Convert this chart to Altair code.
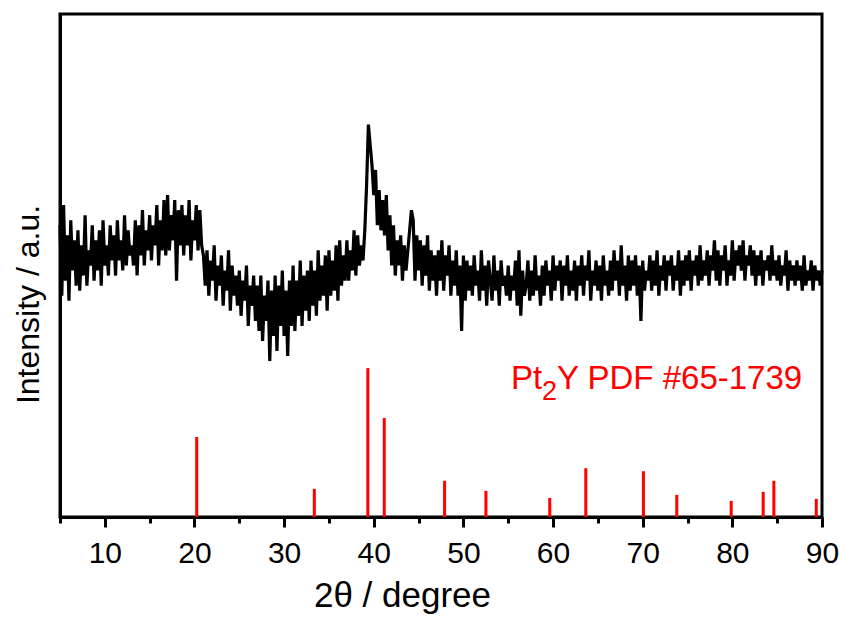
import altair as alt
import pandas as pd

# ---- measured XRD pattern (2theta from 5.0 to 90.0, step 0.2 deg), intensity in a.u. ----
start_2theta = 5.0
step_2theta = 0.2
intensity = [
    58, 44, 62, 47, 56, 43, 59, 49, 55, 46,   # 5.0
    57, 45, 54, 48, 60, 46, 53, 50, 58, 47,   # 7.0
    55, 49, 57, 46, 59, 50, 54, 48, 58, 51,   # 9.0
    56, 48, 59, 51, 55, 49, 60, 50, 57, 52,   # 11.0
    54, 50, 59, 48, 58, 52, 61, 50, 57, 53,   # 13.0
    60, 51, 58, 54, 62, 50, 59, 53, 63, 52,   # 15.0
    64, 53, 60, 55, 63, 47, 61, 54, 62, 52,   # 17.0
    60, 54, 63, 51, 59, 55, 62, 53, 61, 54,   # 19.0
    52, 46, 53, 44, 51, 47, 54, 43, 50, 46,   # 21.0
    52, 42, 49, 45, 53, 41, 50, 44, 48, 42,   # 23.0
    49, 40, 47, 43, 50, 38, 46, 42, 48, 39,   # 25.0
    46, 37, 48, 35, 44, 39, 47, 31, 45, 36,   # 27.0
    48, 33, 46, 38, 49, 36, 45, 32, 47, 38,   # 29.0
    50, 37, 47, 40, 51, 38, 48, 41, 49, 39,   # 31.0
    51, 42, 49, 40, 53, 43, 50, 44, 52, 41,   # 33.0
    53, 44, 51, 45, 54, 43, 55, 46, 52, 47,   # 35.0
    55, 47, 53, 49, 57, 48, 56, 50, 54, 51,   # 37.0
    57, 66, 78, 74, 70, 64, 69, 58, 65, 57,   # 39.0
    63, 56, 64, 53, 60, 50, 58, 48, 55, 50,   # 41.0
    56, 47, 54, 49, 53, 57, 61, 59, 47, 56,   # 43.0
    49, 55, 46, 54, 48, 56, 45, 53, 47, 52,   # 45.0
    44, 53, 47, 55, 45, 52, 48, 54, 44, 51,   # 47.0
    46, 53, 44, 50, 37, 52, 43, 51, 45, 50,   # 49.0
    44, 52, 46, 49, 43, 53, 45, 50, 42, 51,   # 51.0
    47, 43, 52, 45, 49, 42, 51, 46, 48, 44,   # 53.0
    50, 43, 48, 45, 51, 42, 53, 40, 49, 44,   # 55.0
    46, 51, 43, 49, 44, 52, 45, 48, 42, 50,   # 57.0
    44, 51, 46, 49, 43, 52, 45, 50, 47, 51,   # 59.0
    43, 50, 46, 52, 44, 49, 45, 51, 43, 50,   # 61.0
    46, 52, 44, 50, 47, 53, 43, 49, 46, 51,   # 63.0
    45, 50, 43, 52, 46, 49, 44, 51, 45, 53,   # 65.0
    47, 51, 44, 54, 46, 50, 43, 52, 45, 51,   # 67.0
    46, 52, 44, 50, 39, 51, 45, 49, 47, 52,   # 69.0
    45, 51, 46, 53, 44, 50, 47, 52, 45, 51,   # 71.0
    48, 52, 45, 50, 47, 53, 44, 51, 46, 52,   # 73.0
    47, 53, 45, 51, 48, 52, 46, 54, 47, 51,   # 75.0
    48, 53, 46, 52, 49, 55, 47, 53, 46, 52,   # 77.0
    49, 54, 46, 51, 48, 55, 47, 53, 50, 54,   # 79.0
    49, 55, 47, 52, 50, 54, 48, 53, 46, 52,   # 81.0
    48, 53, 46, 51, 49, 52, 47, 54, 48, 51,   # 83.0
    47, 52, 46, 50, 48, 53, 45, 51, 47, 50,   # 85.0
    46, 51, 47, 50, 45, 52, 46, 49, 47, 51,   # 87.0
    45, 50, 47, 49, 46, 49,                   # 89.0
]
two_theta = [round(start_2theta + step_2theta * i, 1) for i in range(len(intensity))]

# ---- Pt2Y reference pattern, PDF #65-1739 ----
ref_2theta = [20.25, 33.37, 39.34, 41.17, 47.90, 52.51, 59.63, 63.65,
              70.08, 73.80, 79.87, 83.44, 84.63, 89.36]
ref_intensity = [15.9, 5.6, 29.6, 19.7, 7.2, 5.2, 3.8, 9.7,
                 9.1, 4.4, 3.2, 5.0, 7.2, 3.6]

# ---- axis settings ----
x_min, x_max = 5, 90
y_min, y_max = 0, 100
x_tick_values = [5, 10, 15, 20, 25, 30, 35, 40, 45, 50, 55, 60, 65, 70, 75, 80, 85, 90]

label_x = [55.3]
label_y = [25.4]
label_parts = ["Pt", "2", "Y PDF #65-1739"]

FONT = "Liberation Sans"
RED = "#ff0000"

pattern = pd.DataFrame({"two_theta": two_theta, "intensity": intensity})
ref = pd.DataFrame({"two_theta": ref_2theta, "intensity": ref_intensity,
                    "base": [0] * len(ref_2theta)})
lab = pd.DataFrame({"x": label_x, "y": label_y})

x_scale = alt.Scale(domain=[x_min, x_max], nice=False, zero=False)
y_scale = alt.Scale(domain=[y_min, y_max], nice=False)

x_axis = alt.Axis(
    values=x_tick_values,
    title="2θ / degree",
    titleFont=FONT, titleFontSize=35, titleFontWeight="normal", titleColor="black",
    titleX=342, titleY=89, titleAlign="center", titleBaseline="alphabetic",
    labelFont=FONT, labelFontSize=30, labelColor="black",
    labelExpr="datum.value % 10 === 0 ? datum.label : ''",
    labelBaseline="alphabetic", labelPadding=35, labelFlush=False, labelOverlap=False,
    tickColor="black", tickWidth=3,
    tickSize={"condition": {"test": "datum.value % 10 === 0", "value": 10}, "value": 6},
    domainColor="black", domainWidth=3, grid=False,
)
y_axis = alt.Axis(
    title="Intensity / a.u.",
    titleFont=FONT, titleFontSize=32, titleFontWeight="normal", titleColor="black",
    titleAngle=270, titleX=-22, titleY=290, titleAlign="center", titleBaseline="alphabetic",
    labels=False, ticks=False, grid=False, domainColor="black", domainWidth=3,
)

line = alt.Chart(pattern).mark_line(color="black", strokeWidth=3.2, strokeJoin="miter", strokeMiterLimit=2).encode(
    x=alt.X("two_theta:Q", scale=x_scale, axis=x_axis),
    y=alt.Y("intensity:Q", scale=y_scale, axis=y_axis),
)

sticks = alt.Chart(ref).mark_rule(color=RED, strokeWidth=3).encode(
    x=alt.X("two_theta:Q", scale=x_scale),
    y=alt.Y("base:Q", scale=y_scale),
    y2="intensity:Q",
)

t1 = alt.Chart(lab).mark_text(text=label_parts[0], font=FONT, fontSize=33, color=RED,
                              align="left", baseline="alphabetic").encode(
    x=alt.X("x:Q", scale=x_scale), y=alt.Y("y:Q", scale=y_scale))
t2 = alt.Chart(lab).mark_text(text=label_parts[1], font=FONT, fontSize=27, color=RED,
                              align="left", baseline="alphabetic", dx=31, dy=11).encode(
    x=alt.X("x:Q", scale=x_scale), y=alt.Y("y:Q", scale=y_scale))
t3 = alt.Chart(lab).mark_text(text=label_parts[2], font=FONT, fontSize=33, color=RED,
                              align="left", baseline="alphabetic", dx=46).encode(
    x=alt.X("x:Q", scale=x_scale), y=alt.Y("y:Q", scale=y_scale))

chart = alt.layer(line, sticks, t1, t2, t3).properties(
    width=762, height=503,
    autosize=alt.AutoSizeParams(type="none"),
    padding={"left": 52, "top": 6, "right": 17, "bottom": 98},
    background="white",
).configure_view(stroke="black", strokeWidth=3)

chart.save("out.html", embed_options={"renderer": "svg", "actions": False})
